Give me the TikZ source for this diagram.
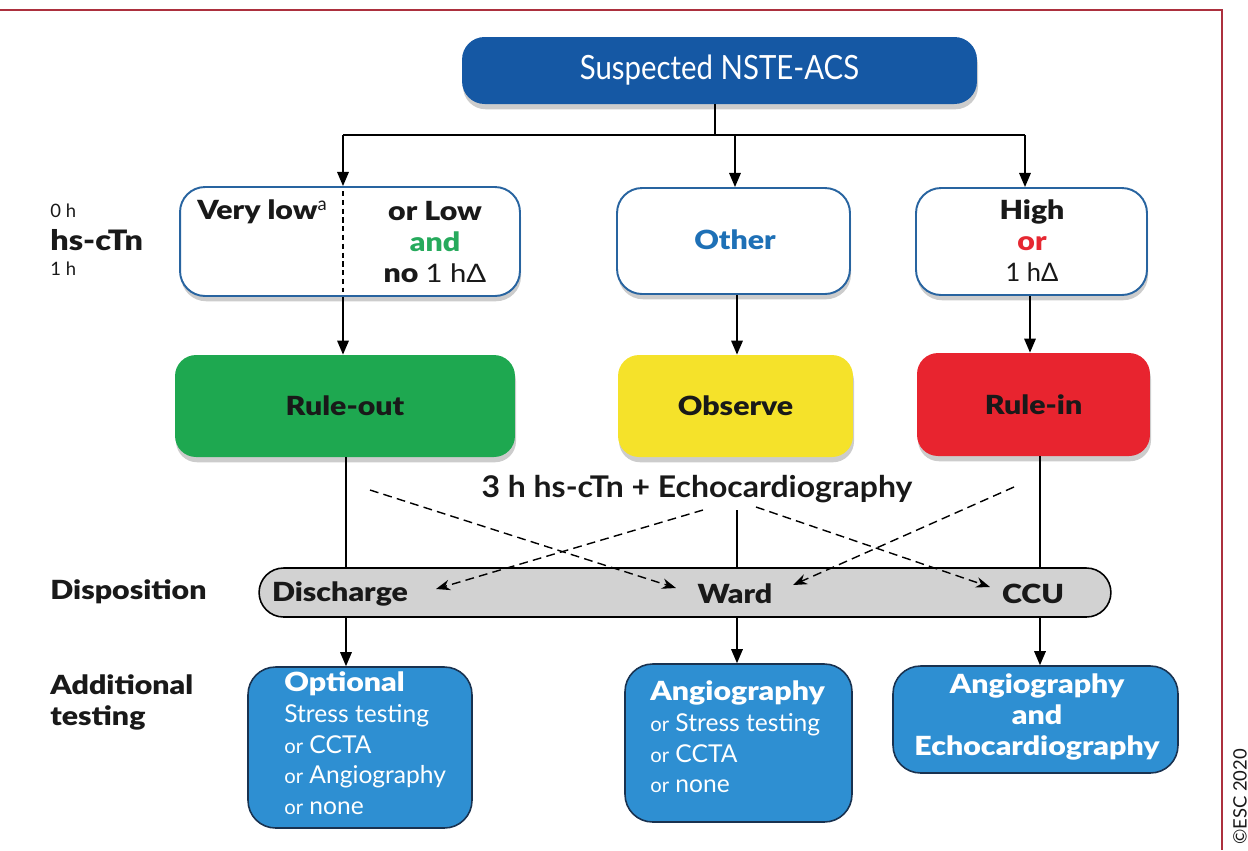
\documentclass[tikz,border=0pt]{standalone}
\usepackage{fontspec}
\usepackage{graphicx}
\setmainfont{Lato}
\newfontfamily\heavy{Lato Black}
\usetikzlibrary{shadows,arrows.meta}
\definecolor{frame}{RGB}{172,48,62}
\definecolor{topblue}{RGB}{21,88,164}
\definecolor{boxline}{RGB}{40,100,160}
\definecolor{othertxt}{RGB}{30,112,182}
\definecolor{andgreen}{RGB}{38,170,92}
\definecolor{orred}{RGB}{230,40,50}
\definecolor{rogreen}{RGB}{30,168,80}
\definecolor{obyellow}{RGB}{245,226,42}
\definecolor{rired}{RGB}{232,36,47}
\definecolor{pillgray}{RGB}{210,210,210}
\definecolor{testblue}{RGB}{46,143,210}
\definecolor{testline}{RGB}{25,50,80}
\definecolor{txt}{RGB}{25,25,25}
\newcommand{\hv}[1]{\scalebox{1.15}[1]{#1}}
\newcommand{\orw}{{\fontsize{11.5}{14}\selectfont or}}
\tikzset{
  shade/.style={drop shadow={opacity=0.4,shadow xshift=0.6pt,shadow yshift=-3pt}},
  topbox/.style={draw=none,fill=topblue,rounded corners=0.45cm,shade,text=white,
    font=\fontsize{19}{22}\selectfont},
  qbox/.style={draw=boxline,line width=1.1pt,fill=white,rounded corners=0.5cm,shade},
  dbox/.style={draw=none,rounded corners=0.42cm,shade,text=txt,
    font=\heavy\fontsize{15}{18}\selectfont},
  pill/.style={draw=black,line width=0.9pt,fill=pillgray,rounded corners=0.49cm},
  tbox/.style={draw=testline,line width=0.9pt,fill=testblue,rounded corners=0.55cm},
  ttext/.style={text=white,inner sep=0pt,font=\fontsize{14}{17.6}\selectfont},
  lab/.style={text=txt,inner sep=0pt,anchor=west},
  hfont/.style={font=\heavy\fontsize{15}{17.6}\selectfont},
  arr/.style={line width=1.1pt,-{Triangle[length=8pt,width=6.5pt]}},
  dline/.style={line width=0.8pt,dash pattern=on 5pt off 3pt,-{Stealth[length=8pt,width=6pt]}},
  sline/.style={line width=1.1pt},
}
\begin{document}
\begin{tikzpicture}[x=0.02cm,y=-0.02cm]
\useasboundingbox (0,0) rectangle (1248,850);
% frame
\draw[frame,line width=1.3pt] (0,10) -- (1222,10) -- (1222,850);

% top
\node[topbox,minimum width=10.3cm,minimum height=1.34cm] (top) at (719.5,70.5) {\scalebox{0.88}[1]{Suspected NSTE-ACS}};

% row 1
\node[qbox,minimum width=6.8cm,minimum height=2.18cm] (b1) at (350,241.5) {};
\node[qbox,minimum width=4.66cm,minimum height=2.12cm] (b2) at (733.5,241) {};
\node[qbox,minimum width=4.62cm,minimum height=2.14cm] (b3) at (1031.5,241.5) {};
\coordinate (sp1) at (343,135);
\coordinate (sp2) at (735,135);
\coordinate (sp3) at (1025,135);
\coordinate (dt) at (343,191);
\coordinate (db) at (343,292);
\draw[black,line width=0.8pt,dash pattern=on 3pt off 2pt] (dt) -- (db);

\node[lab,hfont] (vl) at (197,212) {\hv{Very low}\textsuperscript{\normalfont a}};
\node[text=txt,inner sep=0pt,align=center,hfont] (ol) at (435,242)
  {\hv{or Low}\\\textcolor{andgreen}{\hv{and}}\\\hv{no {\normalfont\fontsize{14.5}{17.6}\selectfont 1 hΔ}}};
\node[text=othertxt,hfont] (oth) at (735,240) {\hv{Other}};
\node[text=txt,inner sep=0pt,align=center,hfont] (hi) at (1032,241)
  {\hv{High}\\\textcolor{orred}{\hv{or}}\\{\normalfont\fontsize{14.5}{17.6}\selectfont 1 hΔ}};

% left labels
\node[lab,font=\fontsize{10.5}{12}\selectfont] (h0) at (50,211) {0 h};
\node[lab,font=\heavy\fontsize{16}{18}\selectfont] (hs) at (50,240) {\hv{hs-cTn}};
\node[lab,font=\fontsize{10.5}{12}\selectfont] (h1) at (50,269) {1 h};
\node[lab,hfont] (disp) at (50,592) {\hv{Disposition}};
\node[lab,align=left,anchor=north west,hfont] (add) at (50,674) {\hv{Additional}\\\hv{testing}};

% row 2
\node[dbox,fill=rogreen,minimum width=6.8cm,minimum height=2.04cm] (ro) at (345,406) {\hv{Rule-out}};
\node[dbox,fill=obyellow,minimum width=4.7cm,minimum height=2.04cm] (ob) at (735.5,406) {\hv{Observe}};
\node[dbox,fill=rired,minimum width=4.66cm,minimum height=2.06cm] (ri) at (1033.5,404.5) {\hv{Rule-in}};

% top connectors
\coordinate (tj) at (715,135);
\draw[sline] (top.south -| tj) -- (tj);
\draw[sline] (sp1) -- (sp3);
\draw[arr] (sp1) -- (sp1 |- b1.north);
\draw[arr] (sp2) -- (sp2 |- b2.north);
\draw[arr] (sp3) -- (sp3 |- b3.north);
\coordinate (c1) at (343,0);
\coordinate (c2) at (737,0);
\coordinate (c3) at (1030,0);
\draw[arr] (c1 |- b1.south) -- (c1 |- ro.north);
\draw[arr] (c2 |- b2.south) -- (c2 |- ob.north);
\draw[arr] (c3 |- b3.south) -- (c3 |- ri.north);

% 3h label
\node[text=txt,font=\bfseries\fontsize{17}{20}\selectfont] (th) at (697,489) {\scalebox{1.07}[1]{3 h hs-cTn + Echocardiography}};

% pill
\node[pill,minimum width=17.04cm,minimum height=0.98cm] (pl) at (685,592.5) {};
\node[text=txt,hfont] (dis) at (340,594) {\hv{Discharge}};
\node[text=txt,hfont] (war) at (735,594) {\hv{Ward}};
\node[text=txt,hfont] (ccu) at (1033,594) {\hv{CCU}};

\coordinate (v1) at (346,0);
\coordinate (v2) at (737,0);
\coordinate (v3) at (1040,0);
\coordinate (mt) at (737,510);
\draw[sline] (v1 |- ro.south) -- (v1 |- pl.north);
\draw[sline] (mt) -- (mt |- pl.north);
\draw[sline] (v3 |- ri.south) -- (v3 |- pl.north);

% dashed
\coordinate (da1) at (370,490); \coordinate (da2) at (676,588);
\coordinate (db1) at (703,510); \coordinate (db2) at (436,589);
\coordinate (dc1) at (1014,487); \coordinate (dc2) at (793,585);
\coordinate (dd1) at (756,507); \coordinate (dd2) at (990,587);
\draw[dline] (da1) -- (da2);
\draw[dline] (db1) -- (db2);
\draw[dline] (dc1) -- (dc2);
\draw[dline] (dd1) -- (dd2);

% bottom
\node[tbox,minimum width=4.48cm,minimum height=3.22cm] (t1) at (360,747.5) {};
\node[tbox,minimum width=4.54cm,minimum height=3.16cm] (t2) at (738.5,743) {};
\node[tbox,minimum width=5.7cm,minimum height=2.14cm] (t3) at (1035.5,719.5) {};
\draw[arr] (v1 |- pl.south) -- (v1 |- t1.north);
\draw[arr] (v2 |- pl.south) -- (v2 |- t2.north);
\draw[arr] (v3 |- pl.south) -- (v3 |- t3.north);

\node[ttext,align=left,anchor=north west] (tx1) at (284,671)
  {{\heavy\fontsize{15}{17.6}\selectfont\hv{Optional}}\\Stress testing\\\orw{} CCTA\\\orw{} Angiography\\\orw{} none};
\node[ttext,align=left,anchor=north west] (tx2) at (650,680)
  {{\heavy\fontsize{15}{17.6}\selectfont\hv{Angiography}}\\\orw{} Stress testing\\\orw{} CCTA\\\orw{} none};
\node[ttext,align=center,hfont] (tx3) at (1037,717)
  {\hv{Angiography}\\\hv{and}\\\hv{Echocardiography}};

\node[text=txt,rotate=90,font=\fontsize{10.5}{12}\selectfont] (esc) at (1240,797) {©ESC 2020};
\end{tikzpicture}
\end{document}
